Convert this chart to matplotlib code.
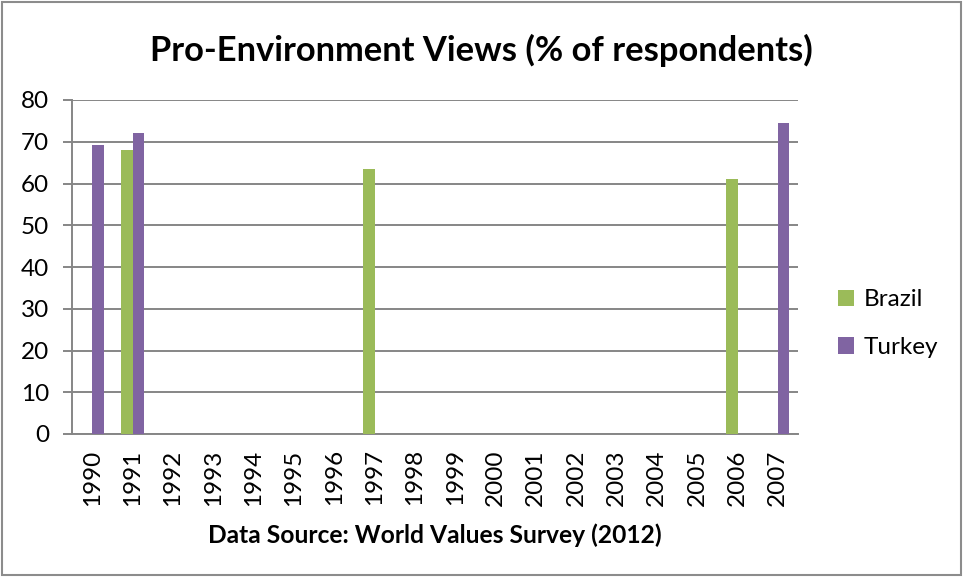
import matplotlib
matplotlib.use("Agg")
import matplotlib.pyplot as plt
import matplotlib.patches as patches
import numpy as np

plt.rcParams["font.family"] = ["Lato", "DejaVu Sans"]

# Survey waves and shares of pro-environment answers
years = [str(y) for y in range(1990, 2008)]
brazil = [np.nan, 68.0, np.nan, np.nan, np.nan, np.nan, np.nan, 63.4, np.nan,
          np.nan, np.nan, np.nan, np.nan, np.nan, np.nan, np.nan, 61.0, np.nan]
turkey = [69.2, 72.0, np.nan, np.nan, np.nan, np.nan, np.nan, np.nan, np.nan,
          np.nan, np.nan, np.nan, np.nan, np.nan, np.nan, np.nan, np.nan, 74.4]

green = "#9BBB59"
purple = "#8064A2"
grid = "#868686"

fig = plt.figure(figsize=(9.63, 5.77), dpi=100)
ax = fig.add_axes([72 / 963, 1 - 434 / 577, 726 / 963, 334 / 577])

x = np.arange(len(years))
w = 1 / 3.5
ax.bar(x - w / 2, brazil, w, color=green, label="Brazil", zorder=3)
ax.bar(x + w / 2, turkey, w, color=purple, label="Turkey", zorder=3)

ax.set_xlim(-0.5, len(years) - 0.5)
ax.set_ylim(0, 80)
ax.set_yticks(range(0, 81, 10))
ax.yaxis.grid(True, color=grid, linewidth=1.4, zorder=0)
ax.set_xticks(x)
ax.set_xticklabels(years, rotation=90)
ax.tick_params(axis="x", length=0, pad=11, labelsize=17.5)
ax.tick_params(axis="y", length=6.5, width=1.4, color=grid, pad=10, labelsize=17.5)

for side in ["top", "right"]:
    ax.spines[side].set_visible(False)
for side in ["left", "bottom"]:
    ax.spines[side].set_color(grid)
    ax.spines[side].set_linewidth(1.4)
ax.set_axisbelow(True)

fig.text(481 / 963, 1 - 50 / 577, "Pro-Environment Views (% of respondents)",
         ha="center", va="center", fontsize=24.8, fontweight="bold")
ax.set_xlabel("Data Source: World Values Survey (2012)", fontsize=17.7,
              fontweight="bold", labelpad=13)

ax.legend(loc="center left", bbox_to_anchor=(1.025, 0.33), frameon=False,
          fontsize=17.5, handlelength=0.65, handleheight=0.65, handletextpad=0.4,
          labelspacing=1.1)

fig.patches.append(patches.Rectangle((0.002, 0.003), 0.996, 0.994,
                                     transform=fig.transFigure, fill=False,
                                     edgecolor="#8c8c8c", linewidth=1.5))

fig.savefig("out.png", dpi=100)
